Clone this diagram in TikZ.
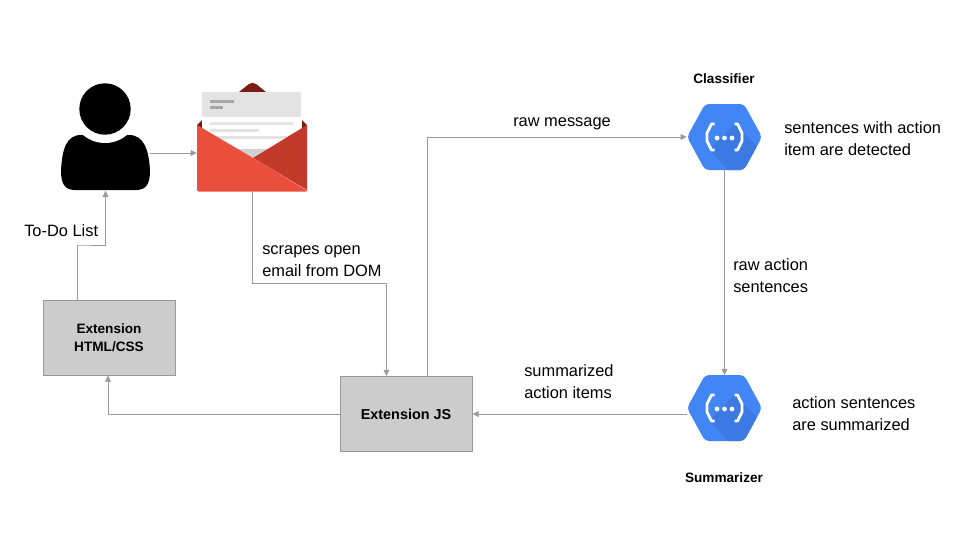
\documentclass[tikz,border=0pt]{standalone}
\usepackage{fontspec}
\setmainfont{Liberation Sans}
\usetikzlibrary{arrows.meta,calc}
\definecolor{linec}{HTML}{999999}
\definecolor{boxc}{HTML}{CCCCCC}
\definecolor{hexa}{HTML}{4285F4}
\definecolor{hexb}{HTML}{3D79E2}
\definecolor{redl}{HTML}{EA4F3D}
\definecolor{redd}{HTML}{C43A2A}
\definecolor{maroon}{HTML}{7A1C12}
\definecolor{sheet}{HTML}{E3E3E3}
\tikzset{
  x=0.75pt,y=-0.75pt,
  conn/.style={draw=linec,line width=0.6pt,-{Triangle[length=4.6pt,width=4.4pt,fill=linec]}},
  boxn/.style={draw=linec,fill=boxc,line width=0.75pt,minimum width=99pt,minimum height=56.25pt,inner sep=0pt,align=center,font=\bfseries\fontsize{10.2}{13.6}\selectfont},
  lbl/.style={align=left,anchor=west,inner sep=0pt,font=\fontsize{12.3}{16.4}\selectfont},
  title/.style={inner sep=0pt,font=\bfseries\fontsize{10.2}{12}\selectfont},
  icon/.style={inner sep=0pt,draw=none},
}
\newcommand{\hexicon}[2]{%
  \begin{scope}[shift={(#1,#2)}]
    \fill[hexa,rounded corners=3pt] (-37.5,0) -- (-19.5,-33) -- (19.5,-33) -- (37.5,0) -- (19.5,33) -- (-19.5,33) -- cycle;
    \begin{scope}
      \clip[rounded corners=3pt] (-37.5,0) -- (-19.5,-33) -- (19.5,-33) -- (37.5,0) -- (19.5,33) -- (-19.5,33) -- cycle;
      \fill[hexb] (10,-13) -- (40,17) -- (40,40) -- (10,40) -- (-15,13) -- cycle;
    \end{scope}
    \draw[white,line width=2.1pt,line join=round] (-10,-13) -- (-13,-13) -- (-17.5,-4) -- (-17.5,4) -- (-13,13) -- (-10,13);
    \draw[white,line width=2.1pt,line join=round] (10,-13) -- (13,-13) -- (17.5,-4) -- (17.5,4) -- (13,13) -- (10,13);
    \fill[white] (-7.5,1) circle (2.4) (0,1) circle (2.4) (7.5,1) circle (2.4);
  \end{scope}}
\begin{document}
\begin{tikzpicture}
\useasboundingbox (0,0) rectangle (960,540);
% person
\fill[black] (61,171) .. controls (62,150) and (66,135) .. (81,135)
  -- (129,135)
  .. controls (144,135) and (149,150) .. (150,171)
  .. controls (150,184) and (146,190) .. (136,190)
  -- (75,190) .. controls (65,190) and (61,184) .. (61,171) -- cycle;
\fill[white] (105,109) circle (34);
\fill[black] (105,109) circle (25.7);
% envelope
\fill[maroon] (239,92) -- (249,84) .. controls (251,82.5) and (254,82.5) .. (256,84) -- (266,92) -- cycle;
\fill[maroon] (197,125) -- (202,120) -- (202,130) -- cycle;
\fill[maroon] (307,125) -- (302,120) -- (302,130) -- cycle;
\fill[white] (202,112) rectangle (301,165);
\fill[sheet,rounded corners=1pt] (202,92) rectangle (301,117);
\fill[black!35] (210,100) rectangle (234,102.5);
\fill[black!35] (210,106) rectangle (223,108.5);
\fill[sheet] (210,122) rectangle (293,124.5);
\fill[sheet] (210,129) rectangle (259,131.5);
\fill[sheet] (210,136) rectangle (301,138.5);
\fill[black!18] (230,149) -- (276,149) -- (253,158) -- cycle;
\fill[redd] (253,158) -- (307,125) -- (307,190) -- cycle;
\fill[redl,rounded corners=1pt] (197,125) -- (253,158) -- (307,190.5) -- (307,191.5) -- (197,191.5) -- cycle;
% hexagons
\hexicon{724.5}{137}
\hexicon{724.5}{408}
% anchor nodes
\node[icon,minimum width=66.75pt,minimum height=41.25pt] (person) at (105.5,163) {};
\node[icon,minimum width=82.5pt,minimum height=81pt] (mail) at (252,137.5) {};
\node[icon,minimum width=56.25pt,minimum height=49.5pt] (classifier) at (724.5,137) {};
\node[icon,minimum width=56.25pt,minimum height=49.5pt] (summarizer) at (724.5,414) {};
\node[boxn] (html) at (109,337.5) {Extension\\HTML/CSS};
\node[boxn,font=\bfseries\fontsize{10.8}{14}\selectfont] (js) at (406,414) {Extension JS};
\coordinate (c1) at (78,245);
\coordinate (c2) at (252,283);
\coordinate (c3) at (108,414);
% connectors
\draw[conn] (person.east |- 0,153) -- (mail.west |- 0,153);
\draw[conn] ($(html.north west)+(35,0)$) |- (c1) -| (person.south);
\draw[conn] (mail.south) -- (c2) -| ($(js.north west)+(47,0)$);
\draw[conn] ($(js.north west)+(88,0)$) |- (classifier.west);
\draw[conn] (classifier.south) -- (summarizer.north |- 0,375);
\draw[conn] (summarizer.west) -- (js.east);
\draw[conn] (js.west) -| (html.south -| c3);
% labels
\node[lbl] (t1) at (24,231) {To-Do List};
\node[lbl] (t2) at (262,261) {scrapes open\\email from DOM};
\node[lbl] (t3) at (513,123.5) {raw message};
\node[lbl] (t4) at (784,139) {sentences with action\\item are detected};
\node[lbl] (t5) at (733,276) {raw action\\sentences};
\node[lbl] (t6) at (524,382) {summarized\\action items};
\node[lbl] (t7) at (792,414) {action sentences\\are summarized};
\node[title] (t8) at (724,79) {Classifier};
\node[title] (t9) at (724,478) {Summarizer};
\end{tikzpicture}
\end{document}
